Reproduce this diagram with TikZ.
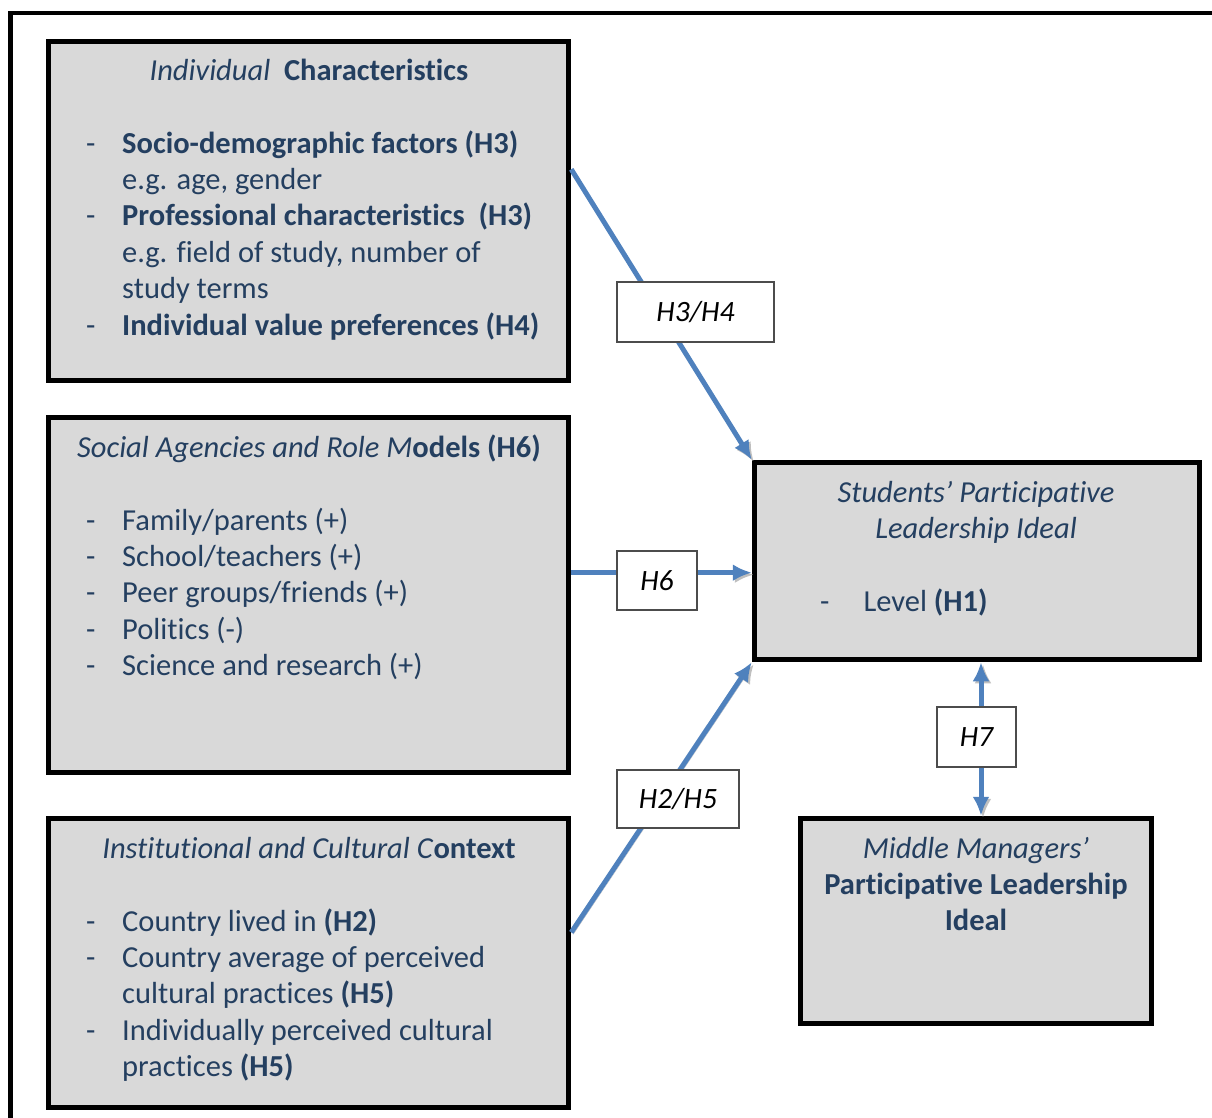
\documentclass[tikz,border=0pt]{standalone}
\usepackage{fontspec}
\setmainfont{Carlito}[Ligatures=CommonOff]
\usepackage{tikz}
\usetikzlibrary{arrows.meta,calc,positioning}
\definecolor{panelgray}{HTML}{D9D9D9}
\definecolor{inktext}{HTML}{243F60}
\definecolor{linkblue}{HTML}{4F81BD}
\newcommand{\boxfont}{\fontsize{30.5}{36.4}\selectfont}
\newcommand{\hypfont}{\fontsize{29.5}{34}\selectfont}
\newcommand{\brk}{\kern0pt}
\tikzset{
  panel/.style={draw=black, line width=5.5pt, fill=panelgray, inner sep=0pt},
  hyp/.style={draw=black!70, line width=1.2pt, fill=white, inner sep=0pt, font=\hypfont\itshape},
  txt/.style={inner sep=0pt, text=inktext, font=\boxfont},
  link/.style={draw=linkblue, line width=5pt, -{Latex[length=19pt,width=17pt]},
    preaction={draw=black!25, transform canvas={shift={(2pt,-2pt)}}}},
  duallink/.style={link, {Latex[length=19pt,width=17pt]}-{Latex[length=19pt,width=17pt]}}
}

\begin{document}
\begin{tikzpicture}[x=1pt,y=-1pt]
\useasboundingbox (0,0) rectangle (1212,1117);
\draw[line width=4.5pt] (10.5,1125) |- (1220,13);

% the five blocks
\node[panel, minimum width=520pt, minimum height=339pt] (ind) at (308.5,211) {};
\node[panel, minimum width=520pt, minimum height=355pt] (soc) at (308.5,595) {};
\node[panel, minimum width=520pt, minimum height=289pt] (inst) at (308.5,963) {};
\node[panel, minimum width=445pt, minimum height=197pt] (stud) at (977,561) {};
\node[panel, minimum width=351pt, minimum height=205pt] (mid) at (976,921) {};

% texts
\node[txt, anchor=base] (indT) at (309,80) {\textit{Individual}\ \ \textbf{Characterist\brk ics}};
\node[txt, anchor=base west] (indL) at (86,153) {\begin{tabular}[t]{@{}p{36pt}@{}l@{}}
-&\textbf{Socio-demographic factors (H3)}\\
&e.g. age, gender\\
-&\textbf{Professional characterist\brk ics\ \ (H3)}\\
&e.g. f\brk ield of study, number of\\
&study terms\\
-&\textbf{Individual value preferences (H4)}
\end{tabular}};

\node[txt, anchor=base] (socT) at (309,457) {\textit{Social Agencies and Role M}\textbf{odels (H6)}};
\node[txt, anchor=base west] (socL) at (86,530) {\begin{tabular}[t]{@{}p{36pt}@{}l@{}}
-&Family/parents (+)\\
-&School/teachers (+)\\
-&Peer groups/friends (+)\\
-&Polit\brk ics (-)\\
-&Science and research (+)
\end{tabular}};

\node[txt, anchor=base] (instT) at (309,858) {\textit{Inst\brk it\brk ut\brk ional and Cultural C}\textbf{ontext}};
\node[txt, anchor=base west] (instL) at (86,931) {\begin{tabular}[t]{@{}p{36pt}@{}l@{}}
-&Country lived in \textbf{(H2)}\\
-&Country average of perceived\\
&cultural pract\brk ices \textbf{(H5)}\\
-&Individually perceived cultural\\
&pract\brk ices \textbf{(H5)}
\end{tabular}};

\node[txt, anchor=base] (studT) at (976,502) {\begin{tabular}[t]{@{}c@{}}
\textit{Students’ Part\brk icipat\brk ive}\\
\textit{Leadership Ideal}
\end{tabular}};
\node[txt, anchor=base west] (studL) at (820,611) {-\hspace{34pt}Level \textbf{(H1)}};

\node[txt, anchor=base] (midT) at (976,858) {\begin{tabular}[t]{@{}c@{}}
\textit{Middle Managers’}\\
\textbf{Part\brk icipat\brk ive Leadership}\\
\textbf{Ideal}
\end{tabular}};

% connectors
\coordinate (s1) at ($(ind.north east)!0.379!(ind.south east)$);
\coordinate (s2) at ($(soc.north east)!0.438!(soc.south east)$);
\coordinate (s3) at ($(inst.north east)!0.396!(inst.south east)$);
\coordinate (t7) at ($(stud.south)+(4,0)$);
\draw[link] (s1) -- (stud.north west);
\draw[link] (s2) -- (s2 -| stud.west);
\draw[link] (s3) -- (stud.south west);
\draw[duallink] (t7) -- (t7 |- mid.north);

% hypothesis labels
\node[hyp, minimum width=157pt, minimum height=60pt] (h34) at (695.5,312) {H3/H4};
\node[hyp, minimum width=80pt, minimum height=59pt] (h6) at (657,580.5) {H6};
\node[hyp, minimum width=122pt, minimum height=58pt] (h25) at (678,799) {H2/H5};
\node[hyp, minimum width=79pt, minimum height=60pt] (h7) at (976.5,737) {H7};
\end{tikzpicture}
\end{document}
